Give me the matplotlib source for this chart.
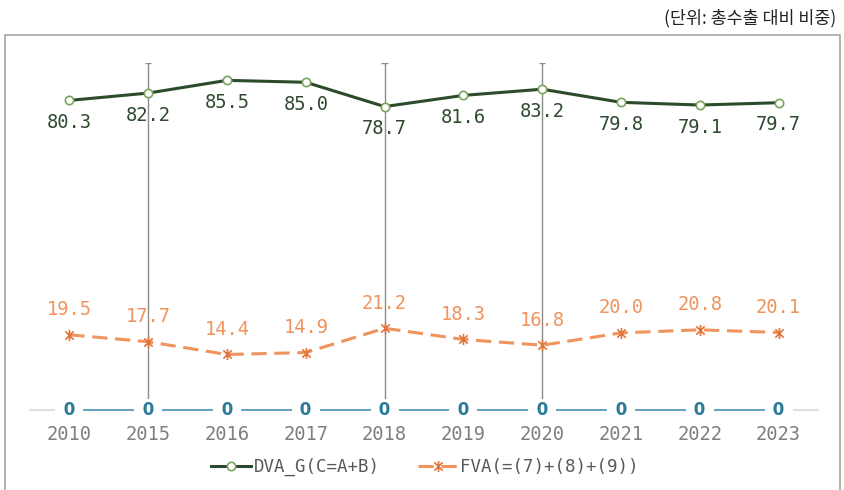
import matplotlib
matplotlib.use('Agg')
import matplotlib.pyplot as plt
from matplotlib.patches import Rectangle
from matplotlib.path import Path

years = ['2010', '2015', '2016', '2017', '2018', '2019', '2020', '2021', '2022', '2023']
dva = [80.3, 82.2, 85.5, 85.0, 78.7, 81.6, 83.2, 79.8, 79.1, 79.7]
fva = [19.5, 17.7, 14.4, 14.9, 21.2, 18.3, 16.8, 20.0, 20.8, 20.1]
zero = [0, 0, 0, 0, 0, 0, 0, 0, 0, 0]
bar_years = ['2015', '2018', '2020']

W, H = 844, 490
fig = plt.figure(figsize=(W / 100, H / 100), dpi=100)
ax = fig.add_axes([30 / W, 1 - 410 / H, (818 - 30) / W, (410 - 63) / H])

mono = 'DejaVu Sans Mono'
x = list(range(len(years)))

# 별표 마커 (세로선 + x)
star = Path([(0, -1), (0, 1), (-0.75, -0.75), (0.75, 0.75), (-0.75, 0.75), (0.75, -0.75)],
            [Path.MOVETO, Path.LINETO, Path.MOVETO, Path.LINETO, Path.MOVETO, Path.LINETO])

# 외곽 테두리
fig.patches.append(Rectangle((5 / W, -0.1), (840 - 5) / W, 1.1 - 35 / H,
                             transform=fig.transFigure, fill=False,
                             edgecolor='#a6a6a6', lw=1.2))

# 세로선
for y in bar_years:
    i = years.index(y)
    ax.vlines(i, 0, 90, color='#8c8c8c', lw=1, zorder=1)
    ax.hlines(90, i - 0.04, i + 0.04, color='#8c8c8c', lw=1, zorder=1)

ax.axhline(0, color='#d9d9d9', lw=1.2, zorder=1, clip_on=False)
ax.plot(x, zero, color='#5a9cc0', lw=1.3, zorder=2, clip_on=False)
for i, v in zip(x, zero):
    ax.text(i, v, f' {v} ', ha='center', va='center', fontsize=12, fontweight='bold',
            color='#2b7a99', family='DejaVu Sans',
            bbox=dict(boxstyle='square,pad=0.15', fc='white', ec='none'), zorder=3)

l1, = ax.plot(x, dva, color='#2c4a2c', lw=2.2, marker='o', ms=6,
              mfc='white', mec='#7aa55e', mew=1.2, zorder=4, label='DVA_G(C=A+B)')
l2, = ax.plot(x, fva, color='#f0935c', lw=2.2, ls=(0, (5, 2.5)), marker=star, ms=8,
              mec='#e0763c', mew=1.2, zorder=4, label='FVA(=(7)+(8)+(9))')

for i, v in zip(x, dva):
    ax.annotate(f'{v:.1f}', (i, v), xytext=(0, -16), textcoords='offset points',
                ha='center', va='center', fontsize=13.5, color='#2f4a2f', family=mono)
for i, v in zip(x, fva):
    ax.annotate(f'{v:.1f}', (i, v), xytext=(0, 18), textcoords='offset points',
                ha='center', va='center', fontsize=13.5, color='#f0935c', family=mono)

ax.set_xlim(-0.5, len(years) - 0.5)
ax.set_ylim(0, 90)
ax.set_xticks(x)
ax.set_xticklabels(years, family=mono, fontsize=13.5, color='#7f7f7f')
ax.tick_params(axis='x', length=0, pad=11)
ax.set_yticks([])
for s in ax.spines.values():
    s.set_visible(False)
ax.patch.set_alpha(0)

fig.legend(handles=[l1, l2], loc='center', bbox_to_anchor=(425 / W, 1 - 467 / H),
           ncol=2, frameon=False, prop={'family': mono, 'size': 12.5},
           labelcolor='#595959', handlelength=2.3, columnspacing=2.2, handletextpad=0.15)

fig.text(836 / W, 1 - 18 / H, '(단위: 총수출 대비 비중)', ha='right', va='center',
         fontsize=12.5, family=['Noto Sans CJK KR', 'DejaVu Sans'], color='#222222')

fig.savefig('out.png', dpi=100, facecolor='white')
